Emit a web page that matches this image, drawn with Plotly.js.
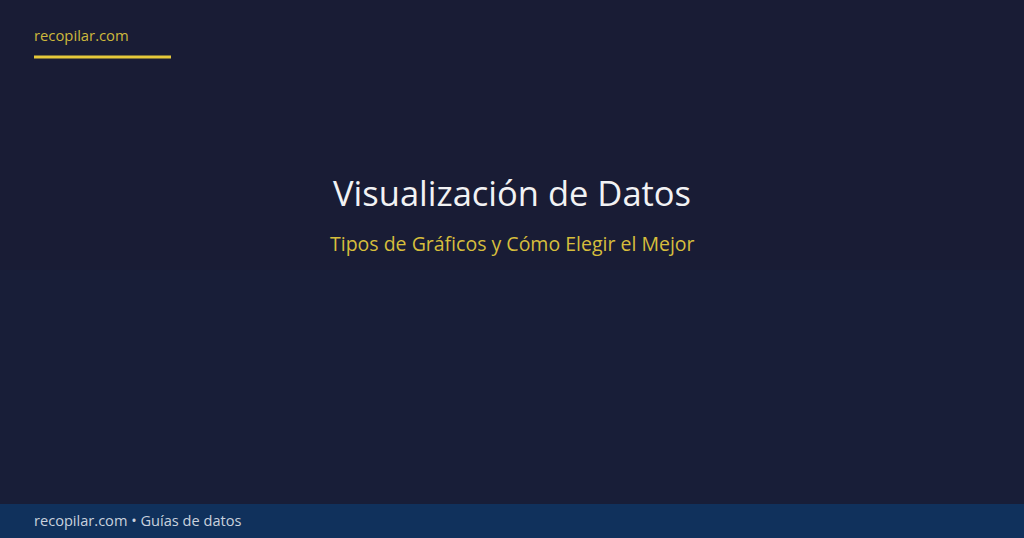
<!DOCTYPE html>
<html>
<head>
<meta charset="utf-8">
<script src="https://cdn.plot.ly/plotly-3.0.1.min.js"></script>
<style>
  html, body { margin: 0; padding: 0; background: #191c35; }
  #card { width: 1024px; height: 538px; }
</style>
</head>
<body>
<div id="card"></div>
<script>
// texts shown on the card
const brand = ['recopilar.com'];
const headings = ['Visualización de Datos'];
const subheadings = ['Tipos de Gráficos y Cómo Elegir el Mejor'];
const footerParts = ['recopilar.com', 'Guías de datos'];

const W = 1024, H = 538;
const font = '"Open Sans", "Noto Sans", "DejaVu Sans", sans-serif';

const layout = {
    width: W,
    height: H,
    margin: {l: 0, r: 0, t: 0, b: 0},
    paper_bgcolor: '#191c35',
    plot_bgcolor: 'rgba(0,0,0,0)',
    showlegend: false,
    xaxis: {range: [0, W], visible: false, fixedrange: true},
    yaxis: {range: [H, 0], visible: false, fixedrange: true},
    shapes: [
        // slight darker-to-bluer fade
        {type: 'rect', xref: 'x', yref: 'y', x0: 0, x1: W, y0: 270, y1: 504,
         fillcolor: '#18203c', opacity: 0.5, line: {width: 0}, layer: 'below'},
        // footer band
        {type: 'rect', xref: 'x', yref: 'y', x0: 0, x1: W, y0: 504, y1: H,
         fillcolor: '#10315c', line: {width: 0}, layer: 'below'},
        // accent under brand
        {type: 'line', xref: 'x', yref: 'y', x0: 34, x1: 171, y0: 57, y1: 57,
         line: {color: '#e6c93a', width: 3}}
    ],
    annotations: [
        {x: 32, y: 35, xref: 'x', yref: 'y', xanchor: 'left', yanchor: 'middle',
         text: brand[0], showarrow: false,
         font: {family: font, size: 14.8, color: '#cdb83c'}},
        {x: 512, y: 192, xref: 'x', yref: 'y', xanchor: 'center', yanchor: 'middle',
         text: headings[0], showarrow: false,
         font: {family: font, size: 34.5, color: '#f2f2f4'}},
        {x: 512, y: 243, xref: 'x', yref: 'y', xanchor: 'center', yanchor: 'middle',
         text: subheadings[0], showarrow: false,
         font: {family: font, size: 19.5, color: '#d6be3c'}},
        {x: 32, y: 520, xref: 'x', yref: 'y', xanchor: 'left', yanchor: 'middle',
         text: footerParts.join(' • '), showarrow: false,
         font: {family: font, size: 14.6, color: '#c9d1de'}}
    ]
};

Plotly.newPlot('card', [], layout, {staticPlot: true, displayModeBar: false});
</script>
</body>
</html>
